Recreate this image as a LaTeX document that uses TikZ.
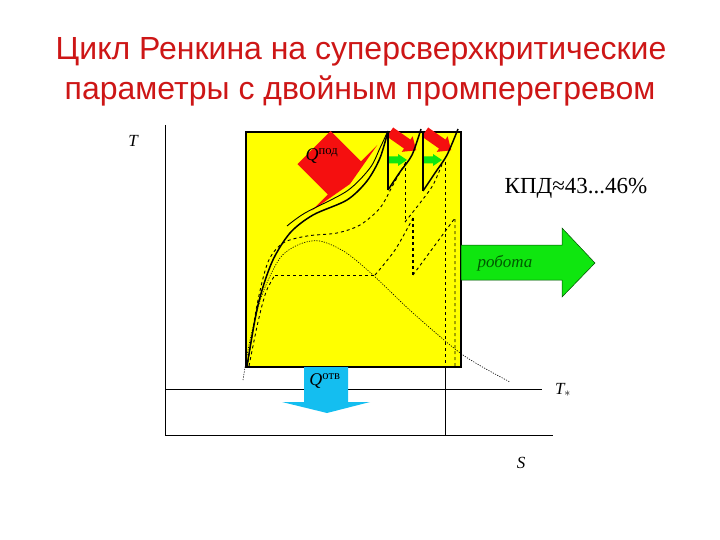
\documentclass[tikz,border=0pt]{standalone}
\usepackage{fontspec}
\setmainfont{Liberation Serif}
\newfontfamily\titlefont{Liberation Sans}
\usepackage{xcolor}
\usepackage{tikz}
\usetikzlibrary{arrows.meta,positioning,calc}
\definecolor{titlered}{RGB}{205,22,22}
\definecolor{cyclefill}{RGB}{255,255,0}
\definecolor{heatred}{RGB}{245,15,15}
\definecolor{workgreen}{RGB}{15,230,15}
\definecolor{coldblue}{RGB}{20,190,240}

\begin{document}
\begin{tikzpicture}[x=1pt, y=-1pt, font=\small,
    hotline/.style={line width=1.5pt},
    cycleline/.style={dashed, line width=0.9pt},
    domeline/.style={dash pattern=on 1.2pt off 1.3pt, line width=0.6pt},
    axislabel/.style={font=\itshape\fontsize{17}{17}\selectfont},
    heatlabel/.style={font=\fontsize{18}{18}\selectfont}]
    \useasboundingbox (0,0) rectangle (720,540);
    \node[anchor=base, font=\titlefont\fontsize{32}{32}\selectfont, text=titlered]
      (title1) at (361,60) {Цикл Ренкина на суперсверхкритические};
    \node[anchor=base, font=\titlefont\fontsize{32}{32}\selectfont, text=titlered]
      (title2) at (360,100) {параметры с двойным промперегревом};
    \draw[line width=0.8pt] (165,125) -- (165,435) -- (553,435);
    \draw[line width=0.8pt] (165,389) -- (542,389);
    \draw[line width=0.8pt] (445,367) -- (445,435);
    \filldraw[fill=cyclefill, draw=black, line width=1.3pt] (246,132) rectangle (461,367);
    \fill[heatred] (330.6,130.9) -- (361,161.3) -- (377.3,145) -- (350,184)
      -- (311.5,210.8) -- (327.8,194.5) -- (297.4,164.1) -- cycle;
    \foreach \dx in {0,35} {
      \begin{scope}[shift={(390+\dx,132)}, rotate=-35]
        \fill[heatred] (0,-5.5) -- (21,-5.5) -- (21,-9.5) -- (32,0) -- (21,9.5) -- (21,5.5) -- (0,5.5) -- cycle;
      \end{scope}
      \fill[workgreen] (388+\dx,156.5) -- (398+\dx,156.5) -- (398+\dx,154) -- (407+\dx,160)
        -- (398+\dx,166) -- (398+\dx,163.5) -- (388+\dx,163.5) -- cycle;
    }
    \draw[domeline] plot[smooth] coordinates {(243,380) (250,340) (262,295) (280,258)
      (300,244) (320,241) (345,252) (373,275) (413,313) (463,355) (510,382)};
    \draw[cycleline] plot[smooth] coordinates {(249,366) (258,322) (266,292) (275,275)};
    \draw[cycleline] (275,275) -- (375,275);
    \draw[cycleline] plot[smooth] coordinates {(375,275) (395,250) (413,218)};
    \draw[cycleline, line width=1.3pt] (413,218) -- (413,275);
    \draw[cycleline] (413,275) -- (455,218) -- (455,367);
    \draw[cycleline] plot[smooth] coordinates {(248,362) (257,305) (268,262) (283,243)
      (307,236) (337,233) (360,225) (380,208) (393,185) (407,160)};
    \draw[cycleline] (405,162) -- (405,222);
    \draw[cycleline] plot[smooth] coordinates {(405,222) (420,203) (433,185) (443,162)};
    \draw[cycleline] (445,162) -- (445,367);
    \draw[hotline] plot[smooth] coordinates {(247,366) (258,305) (272,262) (290,233)
      (313,215) (347,200) (367,181) (380,158) (388,131)};
    \draw[line width=0.9pt] plot[smooth] coordinates {(287,226) (305,213) (347,191)
      (370,168) (380,148) (387,133)};
    \draw[hotline] (388,131) -- (388,190);
    \draw[hotline] plot[smooth] coordinates {(388,190) (400,172) (412,155) (421,129)};
    \draw[hotline] (423,131) -- (423,191);
    \draw[hotline] plot[smooth] coordinates {(423,191) (435,173) (447,155) (458,129)};
    \node[heatlabel] (qin) at (322,156) {\itshape Q\upshape\textsuperscript{под}};
    \fill[coldblue] (304,367) -- (348,367) -- (348,402) -- (370,402) -- (327,413)
      -- (282,402) -- (304,402) -- cycle;
    \node[heatlabel] (qout) at (325,381) {\itshape Q\upshape\textsuperscript{отв}};
    \filldraw[fill=workgreen, draw=green!30!black, line width=0.5pt] (461,245) -- (562,245)
      -- (562,228) -- (595,263) -- (562,297) -- (562,280) -- (461,280) -- cycle;
    \node[font=\itshape\fontsize{17}{17}\selectfont, text=green!35!black] (work) at (505,263) {робота};
    \node[font=\fontsize{23}{23}\selectfont] (eff) at (576,188) {КПД≈43...46\%};
    \node[axislabel] (tlabel) at (133,141) {T};
    \node[axislabel] (tstar) at (563,390) {T$_*$};
    \node[axislabel] (slabel) at (521,463) {S};
  \end{tikzpicture}
\end{document}
